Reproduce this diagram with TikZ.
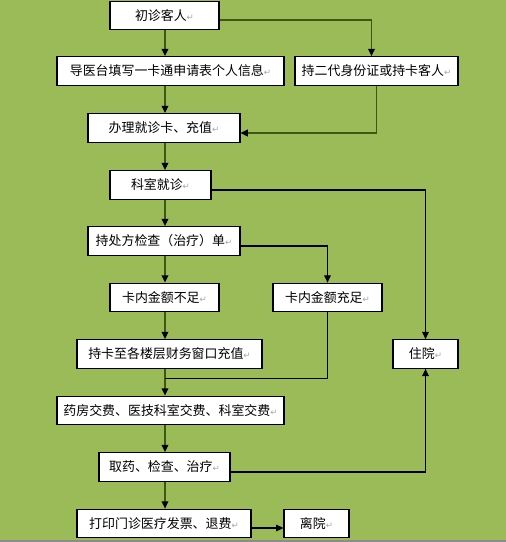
\documentclass[tikz,border=0pt]{standalone}
\usepackage{fontspec}
\setmainfont{Noto Sans CJK SC}
\newfontfamily\symfont{DejaVu Sans}
\usepackage{xcolor}
\usetikzlibrary{calc,arrows.meta}
\definecolor{bgc}{HTML}{9BBB59}
\definecolor{linec}{HTML}{3A5A12}
\newcommand{\retmark}{\textcolor{black!35}{\symfont\fontsize{6.5pt}{6.5pt}\selectfont ↵}}
\tikzset{
  box/.style={draw=black,line width=0.8pt,fill=white,inner sep=0pt,minimum height=21.5pt,font=\fontsize{9.7pt}{11pt}\selectfont},
  ar/.style={-{Triangle[length=5.5pt,width=5pt,color=black]},line width=1.2pt,linec},
  thin/.style={line width=0.8pt,black},
  thinar/.style={thin,-{Triangle[length=5.5pt,width=5pt]}}
}
\begin{document}
\begin{tikzpicture}[x=0.75pt,y=-0.75pt]
\fill[bgc] (0,0) rectangle (506,542);
\useasboundingbox (0,0) rectangle (506,542);
\draw[black!45,line width=1pt] (0,541) -- (506,541);
\coordinate (axis) at (165,0);
\foreach \n/\cx/\cy/\w/\t in {
  chu/164.5/15.5/109/初诊客人,
  daoyi/170.5/71/227/导医台填写一卡通申请表个人信息,
  chier/376.5/71/163/持二代身份证或持卡客人,
  banli/164/128/152/办理就诊卡、充值,
  keshi/160.5/185/101/科室就诊,
  chufang/164/241/152/持处方检查（治疗）单,
  buzu/164.5/297.5/109/卡内金额不足,
  chongzu/327.5/297.5/109/卡内金额充足,
  chika/169.5/354/185/持卡至各楼层财务窗口充值,
  zhuyuan/425.5/354/65/住院,
  yaofang/170.5/410.5/227/药房交费、医技科室交费、科室交费,
  quyao/164.5/467/131/取药、检查、治疗,
  dayin/164/523.5/174/打印门诊医疗发票、退费,
  liyuan/316.5/523.5/65/离院}
  \node[box,minimum width=\w*0.75pt] (\n) at (\cx,\cy) {\t\retmark};
\foreach \a/\b in {chu/daoyi,daoyi/banli,banli/keshi,keshi/chufang,chufang/buzu,buzu/chika,chika/yaofang,yaofang/quyao,quyao/dayin}
  \draw[ar] (\a.south -| axis) -- (\b.north -| axis);
\draw[ar] ($(chu.east)+(0,4.5)$) -| ($(chier.north)+(-5,0)$);
\draw[ar] (chier.south) |- ($(banli.east)+(0,5)$);
\draw[thinar] ($(keshi.east)+(0,5)$) -| (zhuyuan.north);
\draw[thinar] ($(chufang.east)+(0,5)$) -| (chongzu.north);
\coordinate (join) at ($(chika.south -| axis)+(0,10)$);
\draw[thin] (chongzu.south) |- (join);
\draw[thinar] ($(quyao.east)+(0,5)$) -| (zhuyuan.south);
\draw[thinar] ($(dayin.east)+(0,4.5)$) -- ($(liyuan.west)+(0,4.5)$);
\end{tikzpicture}
\end{document}
